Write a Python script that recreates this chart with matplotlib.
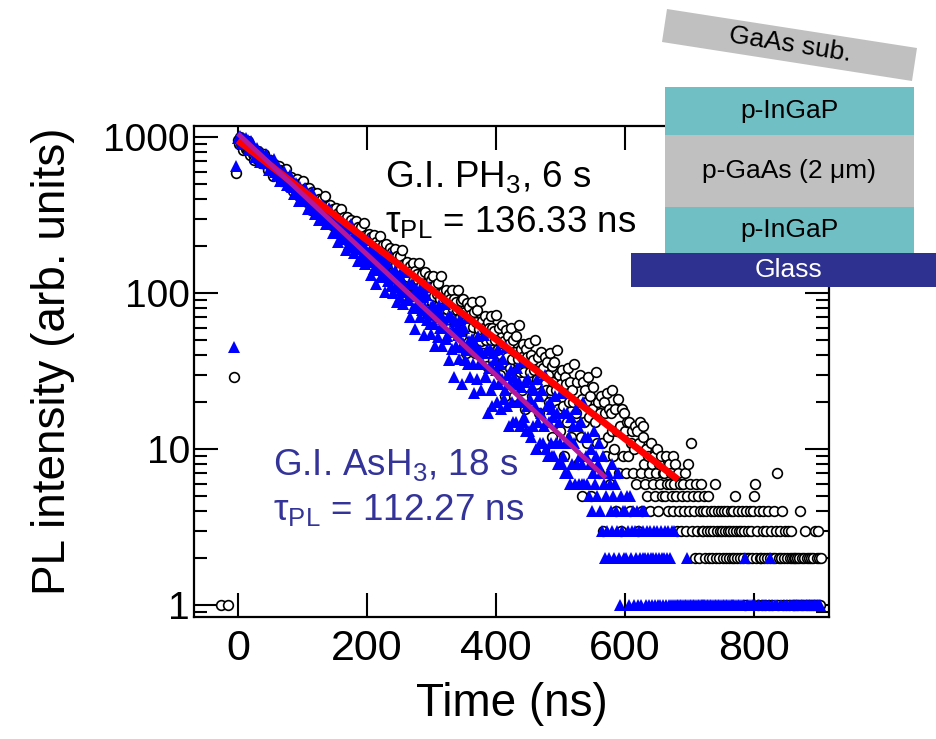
import numpy as np
import matplotlib.pyplot as plt
from matplotlib.patches import Rectangle, Polygon
from matplotlib.ticker import LogLocator, NullFormatter

plt.rcParams['font.family'] = ['Liberation Sans', 'DejaVu Sans']
plt.rcParams['mathtext.default'] = 'regular'

# TRPL decay histograms, 1.5 ns channels starting at t = 0
t = np.arange(0, 904, 1.5)

ph3_counts = [
    962, 896, 1001, 904, 945, 820, 893, 932, 838, 853, 947, 806, 856, 764, 822, 850, 773, 713, 812, 786,
    721, 808, 735, 762, 681, 739, 710, 777, 674, 673, 717, 617, 668, 709, 619, 656, 561, 673, 606, 649,
    621, 572, 653, 580, 613, 520, 576, 606, 537, 548, 620, 515, 554, 486, 530, 552, 495, 451, 526, 508,
    454, 536, 471, 497, 427, 481, 457, 520, 428, 429, 471, 382, 430, 469, 390, 425, 341, 445, 384, 426,
    402, 359, 435, 370, 402, 317, 372, 401, 339, 351, 420, 324, 362, 300, 344, 365, 314, 274, 345, 331,
    286, 353, 301, 324, 267, 312, 293, 346, 271, 273, 308, 237, 277, 309, 246, 276, 207, 292, 244, 279,
    261, 226, 289, 237, 264, 195, 240, 265, 215, 225, 283, 204, 237, 185, 223, 240, 199, 167, 227, 215,
    180, 234, 194, 211, 167, 203, 189, 231, 173, 175, 203, 147, 179, 205, 155, 179, 125, 193, 155, 183,
    168, 141, 191, 151, 172, 118, 155, 174, 135, 144, 189, 128, 154, 114, 144, 158, 126, 101, 148, 139,
    111, 156, 123, 138, 102, 132, 121, 155, 109, 111, 133, 88, 115, 137, 96, 116, 72, 129, 98, 121,
    109, 88, 129, 96, 113, 70, 99, 116, 84, 92, 129, 80, 101, 69, 93, 105, 79, 59, 98, 91,
    69, 105, 79, 91, 63, 87, 78, 105, 68, 70, 89, 53, 74, 91, 59, 76, 41, 86, 61, 81,
    72, 54, 87, 61, 76, 41, 65, 78, 53, 59, 89, 49, 66, 41, 60, 71, 50, 34, 65, 60,
    41, 71, 50, 60, 37, 57, 50, 72, 43, 44, 60, 30, 48, 62, 36, 49, 22, 58, 39, 53,
    47, 33, 60, 38, 50, 22, 42, 53, 32, 38, 62, 31, 44, 24, 39, 47, 31, 18, 44, 39,
    25, 48, 31, 40, 22, 37, 32, 50, 26, 28, 39, 17, 31, 42, 22, 33, 10, 39, 24, 36,
    30, 20, 41, 24, 34, 12, 27, 36, 20, 24, 43, 18, 30, 13, 26, 32, 19, 9, 29, 26,
    15, 33, 20, 27, 12, 24, 20, 35, 16, 17, 27, 8, 20, 30, 12, 21, 5, 27, 15, 24,
    20, 11, 29, 16, 22, 5, 18, 25, 12, 15, 31, 11, 20, 7, 17, 22, 11, 3, 20, 17,
    9, 23, 12, 18, 6, 17, 13, 24, 9, 10, 18, 4, 13, 21, 7, 14, 3, 18, 9, 17,
    13, 7, 15, 9, 15, 4, 11, 13, 7, 10, 14, 6, 13, 3, 11, 15, 7, 4, 14, 12,
    8, 6, 10, 5, 9, 7, 4, 11, 8, 6, 9, 5, 7, 10, 4, 8, 6, 9, 5, 7,
    7, 5, 9, 6, 4, 8, 6, 7, 5, 9, 4, 6, 8, 5, 3, 7, 4, 6, 3, 5,
    6, 4, 7, 3, 5, 8, 4, 6, 11, 3, 5, 4, 2, 6, 3, 5, 2, 4, 6, 3,
    4, 3, 5, 2, 4, 3, 5, 2, 3, 4, 2, 3, 4, 6, 2, 3, 4, 2, 3, 4,
    3, 2, 4, 3, 2, 4, 3, 2, 3, 4, 2, 3, 4, 2, 5, 3, 2, 4, 3, 2,
    3, 4, 2, 3, 1, 4, 2, 3, 2, 4, 3, 2, 4, 5, 6, 2, 3, 1, 4, 2,
    2, 1, 3, 4, 2, 1, 3, 2, 4, 1, 2, 3, 1, 2, 4, 2, 3, 7, 1, 2,
    3, 2, 4, 1, 2, 3, 1, 2, 3, 1, 2, 3, 2, 1, 2, 1, 2, 1, 2, 1,
    2, 4, 1, 2, 1, 2, 3, 1, 2, 1, 2, 1, 2, 1, 2, 1, 3, 1, 2, 3,
    2, 1, 2,
]

ash3_counts = [
    982, 1005, 1010, 962, 909, 990, 967, 902, 985, 917, 951, 843, 917, 877, 946, 827, 825, 871, 748, 814,
    854, 757, 794, 689, 805, 730, 774, 743, 682, 778, 689, 726, 613, 680, 714, 629, 642, 726, 600, 646,
    570, 613, 632, 573, 526, 599, 580, 524, 601, 536, 559, 489, 539, 514, 573, 482, 481, 520, 432, 477,
    510, 437, 467, 388, 480, 424, 460, 437, 392, 468, 401, 432, 345, 399, 427, 363, 374, 442, 345, 382,
    323, 361, 379, 332, 294, 358, 343, 299, 364, 312, 334, 277, 320, 300, 352, 277, 278, 313, 241, 280,
    309, 248, 276, 211, 290, 244, 276, 258, 222, 287, 232, 259, 188, 234, 260, 207, 218, 276, 196, 228,
    180, 212, 228, 191, 161, 213, 203, 167, 223, 181, 199, 153, 190, 175, 218, 159, 160, 189, 131, 164,
    187, 142, 163, 115, 176, 141, 166, 153, 126, 176, 135, 156, 102, 138, 157, 119, 127, 172, 111, 137,
    100, 125, 138, 110, 88, 129, 120, 94, 136, 105, 119, 85, 114, 102, 136, 90, 92, 115, 70, 96,
    114, 80, 96, 59, 106, 81, 100, 90, 70, 109, 78, 94, 54, 81, 97, 67, 74, 109, 63, 82,
    55, 74, 84, 63, 46, 78, 72, 52, 84, 60, 72, 46, 68, 60, 85, 51, 53, 70, 37, 56,
    71, 44, 57, 29, 66, 46, 60, 54, 38, 68, 45, 57, 26, 48, 60, 37, 43, 69, 35, 49,
    29, 44, 51, 35, 23, 47, 43, 28, 53, 35, 43, 24, 41, 35, 54, 29, 29, 43, 17, 33,
    44, 24, 34, 19, 41, 26, 37, 32, 20, 44, 26, 35, 18, 28, 38, 21, 24, 45, 19, 30,
    14, 26, 32, 20, 15, 29, 26, 15, 33, 20, 27, 14, 25, 20, 36, 15, 16, 27, 13, 19,
    28, 13, 21, 12, 25, 14, 24, 19, 10, 28, 15, 22, 11, 17, 24, 11, 14, 30, 10, 19,
    9, 15, 20, 11, 9, 18, 16, 9, 22, 11, 17, 8, 15, 11, 23, 8, 9, 17, 7, 11,
    17, 7, 12, 6, 16, 8, 14, 11, 6, 18, 8, 14, 6, 9, 15, 6, 8, 20, 6, 12,
    9, 6, 12, 5, 8, 10, 4, 7, 13, 6, 9, 5, 8, 11, 4, 7, 3, 9, 6, 2,
    5, 3, 7, 2, 6, 4, 8, 3, 5, 2, 6, 4, 3, 7, 2, 1, 5, 3, 4, 2,
    4, 2, 5, 3, 1, 5, 2, 3, 4, 1, 3, 2, 4, 1, 3, 2, 1, 4, 2, 3,
    4, 2, 1, 3, 2, 1, 3, 2, 1, 2, 3, 1, 2, 3, 1, 2, 1, 3, 2, 1,
    2, 3, 1, 2, 3, 1, 2, 1, 3, 0, 1, 3, 1, 0, 1, 1, 0, 1, 1, 0,
    1, 0, 1, 1, 2, 1, 0, 1, 1, 0, 1, 1, 0, 1, 0, 1, 1, 0, 1, 1,
    1, 0, 1, 1, 0, 1, 1, 0, 1, 1, 0, 1, 0, 1, 1, 0, 1, 1, 0, 1,
    0, 1, 1, 0, 1, 1, 0, 1, 0, 1, 1, 0, 1, 1, 0, 1, 0, 1, 1, 0,
    1, 0, 1, 1, 2, 0, 1, 1, 0, 1, 0, 1, 1, 0, 1, 0, 0, 1, 1, 0,
    0, 1, 0, 0, 1, 0, 1, 0, 0, 1, 2, 0, 1, 0, 0, 1, 0, 1, 0, 0,
    0, 1, 0, 0, 1, 0, 0, 1, 0, 0, 1, 0, 1, 0, 0, 1, 0, 1, 1, 0,
    1, 0, 1, 1, 0, 1, 0, 1, 1, 0, 1, 1, 0, 1, 0, 1, 1, 0, 1, 1,
    1, 1, 0,
]

# channels before the laser pulse (rising edge and stray counts)
ph3_pre_t = [-26, -15, -6, -3]
ph3_pre = [1, 1, 29, 590]
ash3_pre_t = [-6, -3]
ash3_pre = [45, 650]

# single-exponential fits
tau_ph3 = 136.33
tau_ash3 = 112.27
amp_ph3 = 950
amp_ash3 = 1050
fit_end_ph3 = 682
fit_end_ash3 = 570

# layer stack sketch: label, colour, top, bottom (pixels)
layers = [
    ('p-InGaP', '#6fbfc4', 87, 135),
    ('p-GaAs (2 μm)', '#c0c0c0', 135, 207),
    ('p-InGaP', '#6fbfc4', 207, 253),
]

W, H = 937, 739
fig = plt.figure(figsize=(W / 100, H / 100), dpi=100)
ax = fig.add_axes([194 / W, 1 - 617 / H, 635 / W, 491 / H])

t1 = np.concatenate([ph3_pre_t, t])
y1 = np.concatenate([ph3_pre, ph3_counts])
t2 = np.concatenate([ash3_pre_t, t])
y2 = np.concatenate([ash3_pre, ash3_counts])
m1 = y1 > 0
m2 = y2 > 0

ax.plot(t1[m1], y1[m1], 'o', ls='none', ms=7, mfc='white', mec='black', mew=1.2)
ax.plot(t2[m2], y2[m2], '^', ls='none', ms=8.5, color='#0000ff', mew=0)

tf1 = np.linspace(0, fit_end_ph3, 200)
tf2 = np.linspace(0, fit_end_ash3, 200)
ax.plot(tf1, amp_ph3 * np.exp(-tf1 / tau_ph3), color='#ff0000', lw=5, solid_capstyle='butt')
ax.plot(tf2, amp_ash3 * np.exp(-tf2 / tau_ash3), color='#b4189c', lw=3.5, solid_capstyle='butt')

ax.set_yscale('log')
ax.set_xlim(-68, 916)
ax.set_ylim(0.84, 1176)
ax.set_xticks([0, 200, 400, 600, 800])
ax.set_yticks([1, 10, 100, 1000])
ax.set_yticklabels(['1', '10', '100', '1000'])
ax.yaxis.set_minor_locator(LogLocator(base=10, subs=range(2, 10)))
ax.yaxis.set_minor_formatter(NullFormatter())
ax.tick_params(which='both', direction='in', top=True, right=True, width=1.5)
ax.tick_params(which='major', length=17)
ax.tick_params(which='minor', length=9.5)
ax.tick_params(axis='x', pad=9, labelsize=31)
ax.tick_params(axis='y', pad=3, labelsize=28)
for s in ax.spines.values():
    s.set_linewidth(1.6)

ax.set_xlabel('Time (ns)', fontsize=33)
ax.xaxis.set_label_coords(0.5, -0.133)
ax.set_ylabel('PL intensity (arb. units)', fontsize=33)
ax.yaxis.set_label_coords(-0.187, 0.52)

ax.text(0.301, 0.876, 'G.I. PH$_3$, 6 s', transform=ax.transAxes, fontsize=26.5, color='black')
ax.text(0.301, 0.784, 'τ$_{PL}$ = 136.33 ns', transform=ax.transAxes, fontsize=26.5, color='black')
ax.text(0.124, 0.289, 'G.I. AsH$_3$, 18 s', transform=ax.transAxes, fontsize=26.5, color='#333399')
ax.text(0.124, 0.198, 'τ$_{PL}$ = 112.27 ns', transform=ax.transAxes, fontsize=26.5, color='#333399')

# sample structure sketch on top of the plot, in pixel coordinates
sk = fig.add_axes([0, 0, 1, 1], zorder=10)
sk.set_xlim(0, W)
sk.set_ylim(H, 0)
sk.axis('off')
sk.patch.set_alpha(0)

sk.add_patch(Polygon([(667, 9), (917, 48), (912, 81), (662, 42)], closed=True,
                     fc='#c0c0c0', ec='none'))
sk.text(790, 45, 'GaAs sub.', rotation=-8.9, ha='center', va='center',
        fontsize=19, rotation_mode='anchor')
for name, col, top, bot in layers:
    sk.add_patch(Rectangle((665, top), 249, bot - top, fc=col, ec='none'))
    sk.text(789, (top + bot) / 2, name, ha='center', va='center', fontsize=19)
sk.add_patch(Rectangle((631, 253), 306, 34, fc='#2e3190', ec='none'))
sk.text(789, 270, 'Glass', ha='center', va='center', fontsize=19, color='white')

fig.savefig('out.png', dpi=100)
